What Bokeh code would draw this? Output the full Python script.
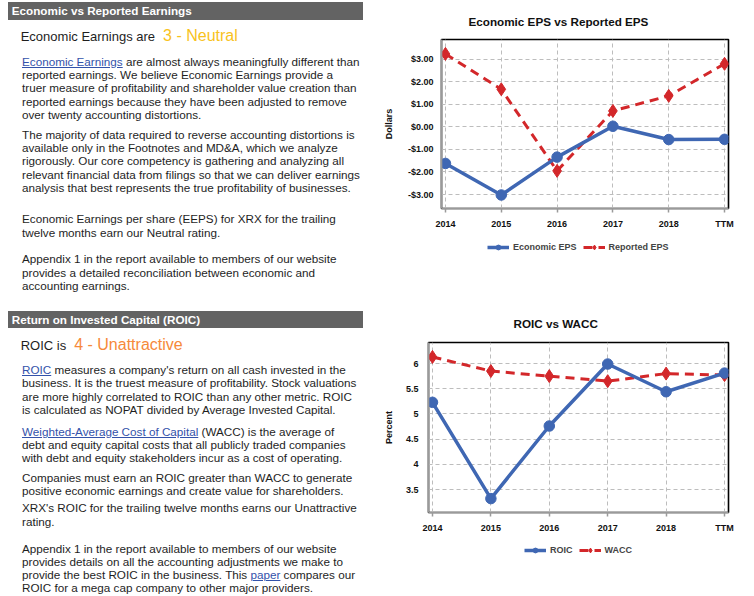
import html
import re
from bokeh.plotting import figure
from bokeh.models import Range1d, FixedTicker, LinearAxis, Grid, Legend, LegendItem, Div
from bokeh.layouts import row, column
from bokeh.embed import file_html
from bokeh.resources import INLINE

# ---------------- data ----------------
years = ["2014", "2015", "2016", "2017", "2018", "TTM"]
economic_eps = [-1.62, -3.02, -1.34, 0.03, -0.56, -0.55]
reported_eps = [3.24, 1.67, -1.95, 0.71, 1.38, 2.80]
roic = [5.23, 3.32, 4.76, 5.99, 5.44, 5.81]
wacc = [6.13, 5.85, 5.75, 5.65, 5.80, 5.77]
eps_ticks = [-3, -2, -1, 0, 1, 2, 3]
pct_ticks = [3.5, 4, 4.5, 5, 5.5, 6]
eps_names = ["Economic EPS", "Reported EPS"]
pct_names = ["ROIC", "WACC"]

header_1 = "Economic vs Reported Earnings"
rating_1_lead = "Economic Earnings are"
rating_1 = "3 - Neutral"
header_2 = "Return on Invested Capital (ROIC)"
rating_2_lead = "ROIC is"
rating_2 = "4 - Unattractive"

para_1 = ["[Economic Earnings] are almost always meaningfully different than",
          "reported earnings. We believe Economic Earnings provide a",
          "truer measure of profitability and shareholder value creation than",
          "reported earnings because they have been adjusted to remove",
          "over twenty accounting distortions."]
para_2 = ["The majority of data required to reverse accounting distortions is",
          "available only in the Footnotes and MD&A, which we analyze",
          "rigorously. Our core competency is gathering and analyzing all",
          "relevant financial data from filings so that we can deliver earnings",
          "analysis that best represents the true profitability of businesses."]
para_3 = ["Economic Earnings per share (EEPS) for XRX for the trailing",
          "twelve months earn our Neutral rating."]
para_4 = ["Appendix 1 in the report available to members of our website",
          "provides a detailed reconciliation between economic and",
          "accounting earnings."]
para_5 = ["[ROIC] measures a company's return on all cash invested in the",
          "business. It is the truest measure of profitability. Stock valuations",
          "are more highly correlated to ROIC than any other metric. ROIC",
          "is calculated as NOPAT divided by Average Invested Capital."]
para_6 = ["[Weighted-Average Cost of Capital] (WACC) is the average of",
          "debt and equity capital costs that all publicly traded companies",
          "with debt and equity stakeholders incur as a cost of operating."]
para_7 = ["Companies must earn an ROIC greater than WACC to generate",
          "positive economic earnings and create value for shareholders."]
para_8 = ["XRX's ROIC for the trailing twelve months earns our Unattractive",
          "rating."]
para_9 = ["Appendix 1 in the report available to members of our website",
          "provides details on all the accounting adjustments we make to",
          "provide the best ROIC in the business. This [paper] compares our",
          "ROIC for a mega cap company to other major providers."]

# ---------------- style ----------------
FONT = "Liberation Sans"
BLUE = "#3f67b3"
RED = "#d3272a"
LINK = "#3352aa"
BAR = "#636363"
TEXT = "#1e1e1e"
GOLD = "#f8c21c"
ORANGE = "#f6893a"
AXIS_GREY = "#9a9a9a"
x_index = list(range(len(years)))
NAN = float("nan")


def eps_label(v):
    return f"-${abs(v):.2f}" if v < 0 else f"${v:.2f}"


def add_series(p, xs, s_blue, s_red):
    lr = p.line(xs, s_red, line_color=RED, line_width=3, line_dash="9 6")
    dr = p.scatter(xs, s_red, marker="diamond", size=13, fill_color=RED, line_color=RED)
    lb = p.line(xs, s_blue, line_color=BLUE, line_width=3.5)
    cb = p.scatter(xs, s_blue, marker="circle", size=10.5, fill_color=BLUE, line_color=BLUE)
    return (lb, cb), (lr, dr)


def make_chart(title, ylabel, s_blue, s_red, y_rng, x_rng, y_ticks, y_labels,
               height, left, frame_w, top, title_offset, title_standoff, ylab_standoff, yaxlab_standoff):
    width = 366
    bottom = height - top - 170
    p = figure(width=width, height=height, x_range=Range1d(*x_rng), y_range=Range1d(*y_rng),
               x_axis_type=None, y_axis_type=None, toolbar_location=None, output_backend="svg",
               min_border_left=left, min_border_right=width - left - frame_w,
               min_border_top=top, min_border_bottom=bottom)
    p.outline_line_color = "black"
    p.outline_line_width = 1.6
    p.border_fill_color = "white"
    p.background_fill_color = "white"

    xt = FixedTicker(ticks=x_index)
    yt = FixedTicker(ticks=y_ticks)
    for dim, t in ((0, xt), (1, yt)):
        p.add_layout(Grid(dimension=dim, ticker=t, grid_line_color="#bdbdbd",
                          grid_line_dash="4 3", grid_line_width=1))

    def spacer():
        return LinearAxis(ticker=FixedTicker(ticks=[]), axis_line_color=None,
                          major_tick_out=5, major_tick_in=0, minor_tick_out=0, minor_tick_in=0,
                          major_label_standoff=0, major_tick_line_color=None)

    common = dict(axis_line_color=AXIS_GREY, axis_line_width=1.6,
                  minor_tick_out=0, minor_tick_in=0, major_tick_in=0,
                  major_label_text_font=FONT, major_label_text_font_size="9px",
                  major_label_text_font_style="bold", major_label_text_color="#111111")
    yax = LinearAxis(ticker=yt, major_tick_out=0, major_tick_line_color=None,
                     major_label_standoff=ylab_standoff,
                     major_label_overrides={v: l for v, l in zip(y_ticks, y_labels)},
                     axis_label=ylabel, axis_label_standoff=yaxlab_standoff,
                     axis_label_text_font=FONT, axis_label_text_font_size="9px",
                     axis_label_text_font_style="bold", axis_label_text_color="#111111", **common)
    xax = LinearAxis(ticker=xt, major_tick_out=4, major_tick_line_color=AXIS_GREY,
                     major_tick_line_width=1.5, major_label_standoff=6,
                     major_label_overrides={i: y for i, y in zip(x_index, years)}, **common)
    p.add_layout(spacer(), "left")
    p.add_layout(yax, "left")
    p.add_layout(spacer(), "below")
    p.add_layout(xax, "below")

    add_series(p, x_index, s_blue, s_red)

    p.title.text = title
    p.title.align = "left"
    p.title.offset = title_offset
    p.title.standoff = title_standoff
    p.title.text_font = FONT
    p.title.text_font_size = "11.7px"
    p.title.text_font_style = "bold"
    p.title.text_color = "#111111"
    return p


def make_legend_fig(names, height, lx, ly):
    q = figure(width=366, height=height, x_range=Range1d(0, 1), y_range=Range1d(0, 1),
               x_axis_type=None, y_axis_type=None, toolbar_location=None, output_backend="svg",
               min_border=0, outline_line_color=None)
    q.grid.visible = False
    (lb, cb), (lr, dr) = add_series(q, [NAN], [NAN], [NAN])
    legend = Legend(items=[LegendItem(label=names[0], renderers=[lb, cb]),
                           LegendItem(label=names[1], renderers=[lr, dr])],
                    orientation="horizontal", location=(lx, ly), border_line_color=None,
                    background_fill_alpha=0, label_text_font=FONT, label_text_font_size="9px",
                    label_text_font_style="bold", label_text_color="#444444",
                    glyph_width=22, glyph_height=12, label_height=12, label_standoff=4,
                    spacing=6, padding=0, margin=0)
    q.add_layout(legend, "center")
    return q


p1 = make_chart("Economic EPS vs Reported EPS", "Dollars", economic_eps, reported_eps,
                (-3.62, 3.88), (-0.071, 5.071), eps_ticks, [eps_label(v) for v in eps_ticks],
                238, 59, 289, 38, 27, 24, 8, 11)
l1 = make_legend_fig(eps_names, 62, 46, 47)
p2 = make_chart("ROIC vs WACC", "Percent", roic, wacc,
                (3.044, 6.417), (-0.068, 5.068), pct_ticks, [f"{v:g}" for v in pct_ticks],
                235, 48, 300, 42, 85, 25, 10, 9)
l2 = make_legend_fig(pct_names, 53, 96, 32)


# ---------------- left text column ----------------
def fmt_line(s):
    out = ""
    for part in re.split(r"(\[[^\]]+\])", s):
        if part.startswith("["):
            out += f'<span style="color:{LINK};text-decoration:underline">{html.escape(part[1:-1])}</span>'
        else:
            out += html.escape(part)
    return out


def bar(blocks, text, top, h):
    blocks.append(
        f'<div style="position:absolute;left:8.3px;top:{top}px;width:354.5px;height:{h}px;'
        f'background:{BAR};color:#ffffff;font-weight:bold;font-size:11.7px;line-height:{h}px;'
        f'padding-left:3.5px;box-sizing:border-box;white-space:nowrap">{html.escape(text)}</div>')


def rating(blocks, lead, val, color, top):
    blocks.append(
        f'<div style="position:absolute;left:20.7px;top:{top}px;line-height:20px;font-size:13px;'
        f'color:{TEXT};white-space:nowrap">{html.escape(lead)}<span style="margin-left:8px;'
        f'font-size:16px;color:{color}">{html.escape(val)}</span></div>')


def para(blocks, lines, cy0, pitch, left=22):
    for i, ln in enumerate(lines):
        top = cy0 + pitch * i - 8
        blocks.append(
            f'<div style="position:absolute;left:{left}px;top:{top:.1f}px;height:14px;line-height:14px;'
            f'font-size:11.7px;color:{TEXT};white-space:nowrap">{fmt_line(ln)}</div>')


def make_div(blocks, h):
    inner = (f'<div style="position:relative;width:380px;height:{h}px;'
             f'font-family:\'{FONT}\',Arial,sans-serif;">' + "".join(blocks) + "</div>")
    return Div(text=inner, width=380, height=h, margin=0)


top_blocks = []
bar(top_blocks, header_1, 1.7, 18)
rating(top_blocks, rating_1_lead, rating_1, GOLD, 25.5)
para(top_blocks, para_1, 63, 13.2)
para(top_blocks, para_2, 136, 13.2)
para(top_blocks, para_3, 220, 13.8)
para(top_blocks, para_4, 260, 13.5)

Y0 = 300
bot_blocks = []
bar(bot_blocks, header_2, 311 - Y0, 17)
rating(bot_blocks, rating_2_lead, rating_2, ORANGE, 334.6 - Y0)
para(bot_blocks, para_5, 371 - Y0, 13.3)
para(bot_blocks, para_6, 433 - Y0, 13)
para(bot_blocks, para_7, 479 - Y0, 13)
para(bot_blocks, para_8, 509 - Y0, 14)
para(bot_blocks, para_9, 550 - Y0, 13)

div_top = make_div(top_blocks, 300)
div_bot = make_div(bot_blocks, 288)

layout = column(row(div_top, column(p1, l1)), row(div_bot, column(p2, l2)))
open("out.html", "w").write(file_html(layout, INLINE))
